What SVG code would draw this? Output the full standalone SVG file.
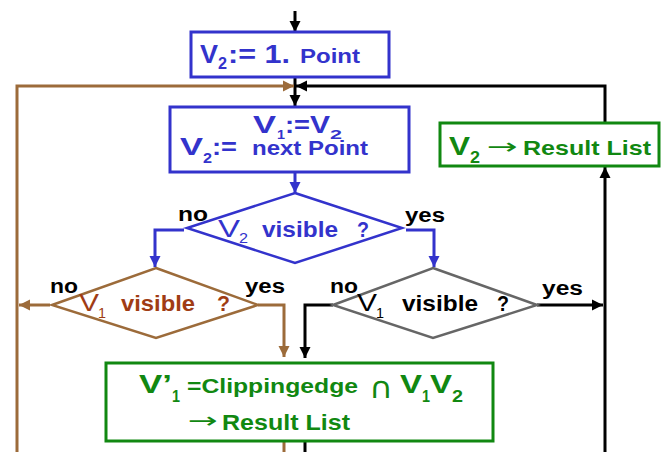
<svg xmlns="http://www.w3.org/2000/svg" width="672" height="452" viewBox="0 0 672 452">
<style>
text{font-family:"Liberation Sans",Arial,sans-serif;font-weight:bold}
.n{font-weight:normal}
.sym{font-family:"DejaVu Sans","Liberation Sans",sans-serif;font-weight:normal}
.blue{fill:#3333cc}.green{fill:#118811}.brownt{fill:#a03c14}.blk{fill:#000}
.box{fill:#fff;stroke-width:3}
.dia{fill:#fff;stroke-width:2.5}
.c{fill:none;stroke-width:3}
</style>
<defs>
<marker id="aK" markerUnits="userSpaceOnUse" markerWidth="12" markerHeight="12" refX="11" refY="6" orient="auto"><path d="M0,0.5 L11,6 L0,11.5 z" fill="#000"/></marker>
<marker id="aB" markerUnits="userSpaceOnUse" markerWidth="12" markerHeight="12" refX="11" refY="6" orient="auto"><path d="M0,0.5 L11,6 L0,11.5 z" fill="#3333cc"/></marker>
<marker id="aR" markerUnits="userSpaceOnUse" markerWidth="12" markerHeight="12" refX="11" refY="6" orient="auto"><path d="M0,0.5 L11,6 L0,11.5 z" fill="#9c6b3a"/></marker>
</defs>
<rect width="672" height="452" fill="#fff"/>
<g id="connectors">
<path class="c" stroke="#000" d="M295,11 V32" marker-end="url(#aK)"/>
<path class="c" stroke="#000" d="M295,77 V106" marker-end="url(#aK)"/>
<path class="c" stroke="#9c6b3a" d="M17,452 V86 H294" marker-end="url(#aR)"/>
<path class="c" stroke="#000" d="M605,123 V86 H296" marker-end="url(#aK)"/>
<path class="c" stroke="#000" d="M605,452 V167" marker-end="url(#aK)"/>
<path class="c" stroke="#3333cc" d="M295,172 V193" marker-end="url(#aB)"/>
<path class="c" stroke="#3333cc" d="M184,230 H155 V267" marker-end="url(#aB)"/>
<path class="c" stroke="#3333cc" d="M406,230 H434 V267" marker-end="url(#aB)"/>
<path class="c" stroke="#9c6b3a" d="M50,305 H19" marker-end="url(#aR)"/>
<path class="c" stroke="#9c6b3a" d="M258,305 H284 V357" marker-end="url(#aR)"/>
<path class="c" stroke="#000" d="M333,305 H305 V358" marker-end="url(#aK)"/>
<path class="c" stroke="#000" d="M537,305 H603" marker-end="url(#aK)"/>
<path class="c" stroke="#9c6b3a" d="M284,442 V452"/>
<path class="c" stroke="#000" d="M305,442 V452"/>
</g>
<g id="start">
<rect class="box" stroke="#3333cc" x="191" y="32" width="198" height="45"/>
<text class="blue"><tspan x="200" y="63" font-size="25" textLength="18" lengthAdjust="spacingAndGlyphs">V</tspan><tspan x="218" y="69" font-size="16" textLength="9" lengthAdjust="spacingAndGlyphs">2</tspan><tspan x="228" y="63" font-size="25" textLength="62" lengthAdjust="spacingAndGlyphs">:= 1.</tspan> <tspan x="300" y="63" font-size="20" textLength="60" lengthAdjust="spacingAndGlyphs">Point</tspan></text>
</g>
<g id="next">
<rect class="box" stroke="#3333cc" x="170" y="107" width="239" height="65"/>
<text class="blue"><tspan x="253" y="133" font-size="23" textLength="23" lengthAdjust="spacingAndGlyphs">V</tspan><tspan x="277" y="139" font-size="13" textLength="8" lengthAdjust="spacingAndGlyphs">1</tspan><tspan x="285" y="133" font-size="23" textLength="25" lengthAdjust="spacingAndGlyphs">:=</tspan><tspan x="310" y="133" font-size="23" textLength="20" lengthAdjust="spacingAndGlyphs">V</tspan><tspan x="330" y="139" font-size="13" textLength="12" lengthAdjust="spacingAndGlyphs">2</tspan></text>
<text class="blue"><tspan x="180" y="155" font-size="23" textLength="23" lengthAdjust="spacingAndGlyphs">V</tspan><tspan x="203" y="163" font-size="15" textLength="9" lengthAdjust="spacingAndGlyphs">2</tspan><tspan x="212" y="155" font-size="23" textLength="25" lengthAdjust="spacingAndGlyphs">:=</tspan> <tspan x="252" y="155" font-size="20" textLength="116" lengthAdjust="spacingAndGlyphs">next Point</tspan></text>
</g>
<g id="result">
<rect class="box" stroke="#118811" x="440" y="123" width="219" height="43"/>
<text class="green"><tspan x="449" y="155" font-size="26" textLength="21" lengthAdjust="spacingAndGlyphs">V</tspan><tspan x="470" y="163" font-size="17" textLength="10" lengthAdjust="spacingAndGlyphs">2</tspan> <tspan class="sym" x="487" y="154" font-size="22" textLength="31" lengthAdjust="spacingAndGlyphs">→</tspan><tspan x="523" y="155" font-size="21" textLength="128" lengthAdjust="spacingAndGlyphs">Result List</tspan></text>
</g>
<g id="v2visible">
<polygon class="dia" stroke="#3333cc" points="295,193 402,228 295,263 187,228"/>
<text class="blue"><tspan class="n" x="218" y="237" font-size="24" textLength="22" lengthAdjust="spacingAndGlyphs">V</tspan><tspan class="n" x="239" y="243" font-size="15" textLength="9" lengthAdjust="spacingAndGlyphs">2</tspan> <tspan x="262" y="237" font-size="22" textLength="76" lengthAdjust="spacingAndGlyphs">visible</tspan> <tspan x="357" y="237" font-size="22" textLength="12" lengthAdjust="spacingAndGlyphs">?</tspan></text>
<text class="blk" x="178" y="221" font-size="20" textLength="30" lengthAdjust="spacingAndGlyphs">no</text>
<text class="blk" x="405" y="222" font-size="20" textLength="40" lengthAdjust="spacingAndGlyphs">yes</text>
</g>
<g id="v1visibleA">
<polygon class="dia" stroke="#9c6b3a" points="156,268 258,305 156,338 52,305"/>
<text class="brownt"><tspan class="n" x="79" y="311" font-size="23" textLength="20" lengthAdjust="spacingAndGlyphs">V</tspan><tspan class="n" x="98" y="318" font-size="14" textLength="8" lengthAdjust="spacingAndGlyphs">1</tspan> <tspan x="121" y="311" font-size="22" textLength="74" lengthAdjust="spacingAndGlyphs">visible</tspan> <tspan x="217" y="311" font-size="22" textLength="13" lengthAdjust="spacingAndGlyphs">?</tspan></text>
<text class="blk" x="50" y="293" font-size="20" textLength="28" lengthAdjust="spacingAndGlyphs">no</text>
<text class="blk" x="245" y="293" font-size="20" textLength="40" lengthAdjust="spacingAndGlyphs">yes</text>
</g>
<g id="v1visibleB">
<polygon class="dia" stroke="#666666" points="433,268 537,305 433,338 333,305"/>
<text class="blk"><tspan class="n" x="357" y="311" font-size="23" textLength="20" lengthAdjust="spacingAndGlyphs">V</tspan><tspan class="n" x="376" y="318" font-size="14" textLength="8" lengthAdjust="spacingAndGlyphs">1</tspan> <tspan x="402" y="311" font-size="22" textLength="76" lengthAdjust="spacingAndGlyphs">visible</tspan> <tspan x="497" y="311" font-size="22" textLength="12" lengthAdjust="spacingAndGlyphs">?</tspan></text>
<text class="blk" x="330" y="293" font-size="20" textLength="28" lengthAdjust="spacingAndGlyphs">no</text>
<text class="blk" x="542" y="295" font-size="20" textLength="41" lengthAdjust="spacingAndGlyphs">yes</text>
</g>
<g id="clip">
<rect class="box" stroke="#118811" x="106" y="363" width="387" height="78"/>
<text class="green"><tspan x="139" y="393" font-size="25" textLength="33" lengthAdjust="spacingAndGlyphs">V’</tspan><tspan x="172" y="402" font-size="16" textLength="8" lengthAdjust="spacingAndGlyphs">1</tspan> <tspan x="187" y="393" font-size="21" textLength="171" lengthAdjust="spacingAndGlyphs">=Clippingedge</tspan> <tspan class="sym" x="369" y="398" font-size="30" textLength="24" lengthAdjust="spacingAndGlyphs">∩</tspan> <tspan x="400" y="393" font-size="25" textLength="22" lengthAdjust="spacingAndGlyphs">V</tspan><tspan x="422" y="402" font-size="16" textLength="8" lengthAdjust="spacingAndGlyphs">1</tspan><tspan x="430" y="393" font-size="25" textLength="22" lengthAdjust="spacingAndGlyphs">V</tspan><tspan x="452" y="402" font-size="16" textLength="11" lengthAdjust="spacingAndGlyphs">2</tspan></text>
<text class="green"><tspan class="sym" x="188" y="428" font-size="22" textLength="30" lengthAdjust="spacingAndGlyphs">→</tspan><tspan x="222" y="430" font-size="22" textLength="128" lengthAdjust="spacingAndGlyphs">Result List</tspan></text>
</g>
</svg>
